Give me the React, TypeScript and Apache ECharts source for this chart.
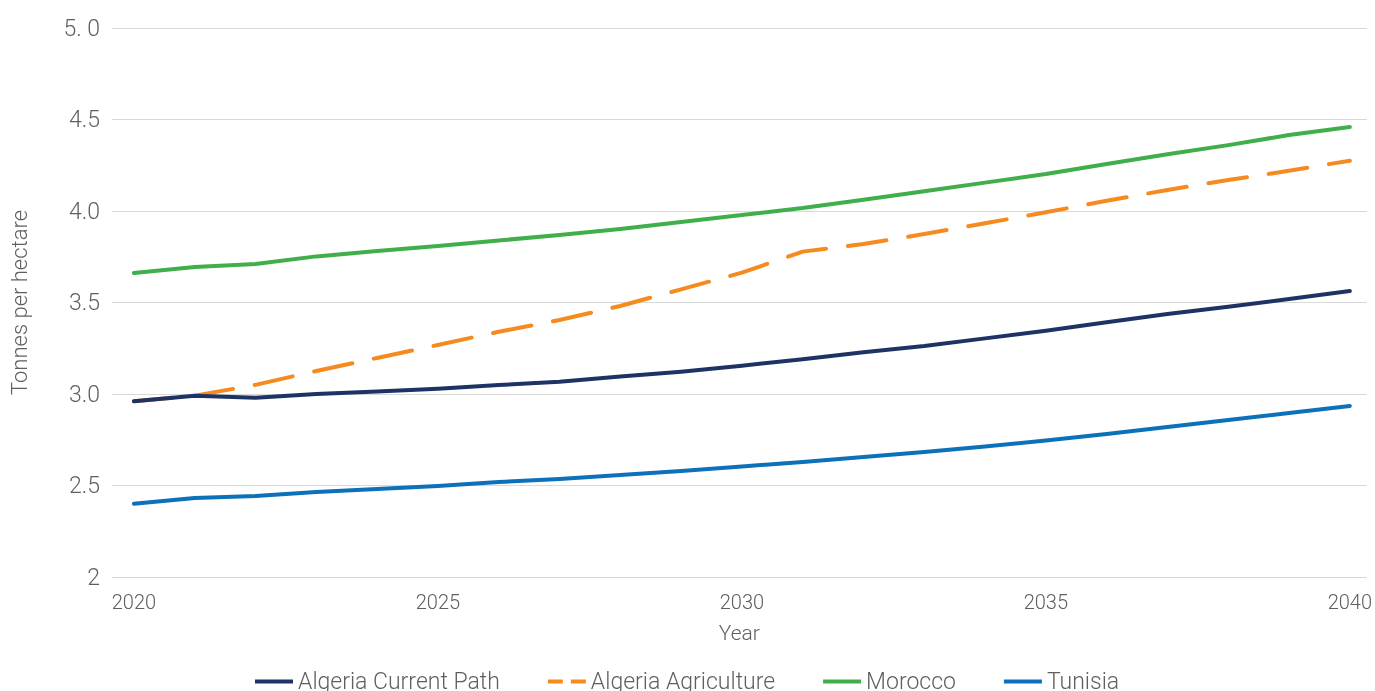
import React, { useEffect, useRef } from "react";
import * as echarts from "echarts";

const years = [2020, 2021, 2022, 2023, 2024, 2025, 2026, 2027, 2028, 2029, 2030, 2031, 2032, 2033, 2034, 2035, 2036, 2037, 2038, 2039, 2040];
const xTickYears = [2020, 2025, 2030, 2035, 2040];

const algeriaCurrentPath = [2.96, 2.99, 2.98, 3.0, 3.013, 3.029, 3.049, 3.067, 3.095, 3.122, 3.155, 3.19, 3.228, 3.262, 3.304, 3.346, 3.392, 3.437, 3.477, 3.519, 3.563];
const algeriaAgriculture = [2.96, 2.99, 3.05, 3.126, 3.197, 3.268, 3.34, 3.404, 3.481, 3.572, 3.663, 3.778, 3.82, 3.874, 3.933, 3.993, 4.056, 4.115, 4.169, 4.22, 4.275];
const morocco = [3.661, 3.694, 3.71, 3.752, 3.781, 3.809, 3.839, 3.869, 3.902, 3.94, 3.978, 4.016, 4.062, 4.108, 4.155, 4.202, 4.257, 4.31, 4.36, 4.415, 4.459];
const tunisia = [2.4, 2.432, 2.443, 2.464, 2.481, 2.497, 2.519, 2.536, 2.557, 2.579, 2.604, 2.628, 2.656, 2.683, 2.713, 2.746, 2.781, 2.82, 2.858, 2.896, 2.935];

const seriesNames = ["Algeria Current Path", "Algeria Agriculture", "Morocco", "Tunisia"];
const seriesColors = ["#1e3266", "#f58a1f", "#40ae4a", "#0b71b8"];

const FONT = "Roboto";
const TEXT = "#5f5f5f";

export default function App() {
  const ref = useRef<HTMLDivElement>(null);
  useEffect(() => {
    if (!ref.current) return;
    const chart = echarts.init(ref.current, undefined, { renderer: "svg" });
    const values = [algeriaCurrentPath, algeriaAgriculture, morocco, tunisia];
    const series = values.map((arr, i) => ({
      name: seriesNames[i],
      type: "line",
      symbol: "none",
      showSymbol: false,
      data: years.map((y, k) => [y, arr[k]]),
      lineStyle: {
        color: seriesColors[i],
        width: 4,
        cap: "round",
        join: "round",
        type: i === 1 ? [39, 22] : "solid",
      },
      itemStyle: { color: seriesColors[i] },
      z: i === 1 ? 1 : 2,
    }));
    chart.setOption({
      animation: false,
      textStyle: { fontFamily: FONT, fontWeight: 300 },
      grid: { left: 111, right: 5, top: 28, bottom: 114, containLabel: false },
      xAxis: {
        type: "value",
        min: 2020 - 22 / 61,
        max: 2040 + 17 / 61,
        name: "Year",
        nameLocation: "middle",
        nameGap: 45,
        nameTextStyle: { fontSize: 21, color: TEXT, fontFamily: FONT, fontWeight: 300 },
        axisLine: { show: false },
        axisTick: { show: false },
        splitLine: { show: false },
        axisLabel: {
          customValues: xTickYears,
          margin: 15,
          fontSize: 20,
          color: TEXT,
          fontFamily: FONT,
          fontWeight: 300,
          formatter: (v: number) => String(Math.round(v)),
        },
      },
      yAxis: {
        type: "value",
        min: 2,
        max: 5,
        interval: 0.5,
        name: "Tonnes per hectare",
        nameLocation: "middle",
        nameGap: 82,
        nameTextStyle: { fontSize: 22, color: TEXT, fontFamily: FONT, fontWeight: 300 },
        axisLine: { show: false },
        axisTick: { show: false },
        splitLine: { lineStyle: { color: "#d9d9d9", width: 1 } },
        axisLabel: {
          margin: 12,
          fontSize: 23,
          color: TEXT,
          fontFamily: FONT,
          fontWeight: 300,
          formatter: (v: number) => (v === 5 ? "5. 0" : v === 2 ? "2" : v.toFixed(1)),
        },
      },
      legend: {
        left: 248,
        top: 665,
        itemWidth: 38,
        itemHeight: 14,
        itemGap: 46,
        textStyle: { fontSize: 23, color: TEXT, fontFamily: FONT, fontWeight: 300 },
        data: seriesNames.map((n, i) => ({
          name: n,
          itemStyle: { opacity: 0 },
          lineStyle: {
            color: seriesColors[i],
            width: 4,
            type: i === 1 ? [15, 8] : "solid",
            cap: "butt",
          },
        })),
      },
      series,
    });
    return () => chart.dispose();
  }, []);
  return <div ref={ref} style={{ position: "fixed", left: 0, top: 0, width: 1375, height: 691 }} />;
}
